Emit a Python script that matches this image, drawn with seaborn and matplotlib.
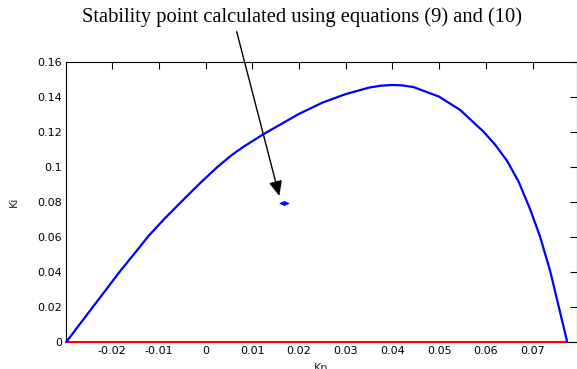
import matplotlib
matplotlib.use("Agg")
import matplotlib.pyplot as plt
from matplotlib.path import Path
import seaborn as sns
import pandas as pd

# Stability boundary curve (Kp, Ki)
kp = [-0.0298, -0.0241, -0.0184, -0.0150, -0.0122, -0.0088, -0.0050, -0.0015,
      0.0025, 0.0055, 0.0080, 0.0125, 0.0200, 0.0250, 0.0300, 0.0350,
      0.0375, 0.0400, 0.0420, 0.0445, 0.0500, 0.0545, 0.0595, 0.0620,
      0.0645, 0.0670, 0.0695, 0.0716, 0.0738, 0.0756, 0.0774]
ki = [0.0, 0.02, 0.04, 0.0512, 0.0605, 0.0703, 0.0805, 0.0898,
      0.0998, 0.1065, 0.1112, 0.1188, 0.1302, 0.1366, 0.1415, 0.1452,
      0.1463, 0.1467, 0.1465, 0.1455, 0.1400, 0.1324, 0.1200, 0.1125,
      0.1035, 0.0915, 0.0755, 0.0600, 0.0400, 0.0200, 0.0]
# Lower boundary Ki = 0
kp_zero = [-0.0298, 0.0774]
ki_zero = [0.0, 0.0]
# Stability point
pt_kp = [0.01685]
pt_ki = [0.0794]
arrow_tip = (0.01577, 0.0833)

xticks = [-0.02, -0.01, 0, 0.01, 0.02, 0.03, 0.04, 0.05, 0.06, 0.07]
xticklabels = ["-0.02", "-0.01", "0", "0.01", "0.02", "0.03", "0.04", "0.05", "0.06", "0.07"]
yticks = [0, 0.02, 0.04, 0.06, 0.08, 0.1, 0.12, 0.14, 0.16]
yticklabels = ["0", "0.02", "0.04", "0.06", "0.08", "0.1", "0.12", "0.14", "0.16"]
annotation = "Stability point calculated using equations (9) and (10)"

sns.set_style("white")
plt.rcParams["font.family"] = ["DejaVu Sans"]

W, H = 577, 369
fig = plt.figure(figsize=(W / 100, H / 100), dpi=100)
ax = fig.add_axes([66 / W, (H - 341.7) / H, (576.5 - 66) / W, (341.7 - 61.7) / H])

curve = pd.DataFrame({"Kp": kp, "Ki": ki})
zero = pd.DataFrame({"Kp": kp_zero, "Ki": ki_zero})
point = pd.DataFrame({"Kp": pt_kp, "Ki": pt_ki})

sns.lineplot(data=zero, x="Kp", y="Ki", color="#ff0000", linewidth=1.5, ax=ax,
             estimator=None, sort=False, clip_on=False, zorder=3)
sns.lineplot(data=curve, x="Kp", y="Ki", color="#0000ff", linewidth=1.6, ax=ax,
             estimator=None, sort=False, clip_on=False, zorder=4)
flat_diamond = Path([(-1, 0), (0, 0.45), (1, 0), (0, -0.45), (-1, 0)],
                    [Path.MOVETO, Path.LINETO, Path.LINETO, Path.LINETO, Path.CLOSEPOLY])
sns.scatterplot(data=point, x="Kp", y="Ki", color="#0000ff", marker=flat_diamond, s=45,
                edgecolor="#0000ff", linewidth=0.5, ax=ax, zorder=5)

ax.set_xlim(-0.0299, 0.0794)
ax.set_ylim(0, 0.16)
ax.set_xticks(xticks)
ax.set_xticklabels(xticklabels)
ax.set_yticks(yticks)
ax.set_yticklabels(yticklabels)
ax.tick_params(direction="in", top=True, right=True, length=5, width=0.8,
               labelsize=8, pad=3, colors="black")
for s in ax.spines.values():
    s.set_visible(True)
    s.set_color("black")
    s.set_linewidth(0.8)
ax.set_xlabel("Kp", fontsize=8, labelpad=5)
ax.set_ylabel("Ki", fontsize=8, labelpad=13)

fig.text(302 / W, (H - 21.7) / H, annotation, family=["Liberation Serif"],
         fontsize=14.8, ha="center", va="baseline", color="black")
ax.annotate("", xy=arrow_tip, xycoords="data",
            xytext=(236.7, H - 31.7), textcoords="figure pixels",
            arrowprops=dict(arrowstyle="-|>,head_length=0.9,head_width=0.4",
                            color="black", lw=1.0, shrinkA=0, shrinkB=0),
            annotation_clip=False)

fig.savefig("out.png", dpi=100)
